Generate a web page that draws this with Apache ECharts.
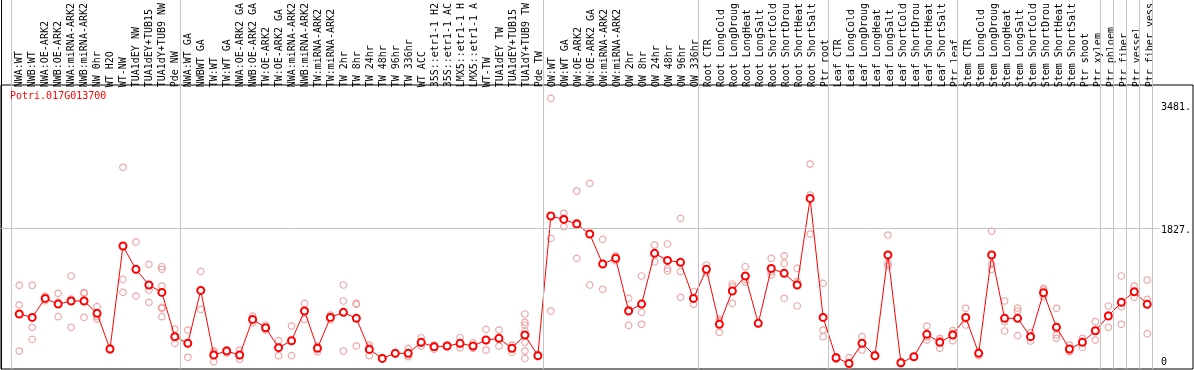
<!DOCTYPE html>
<html><head><meta charset="utf-8">
<script src="https://cdn.jsdelivr.net/npm/echarts@6/dist/echarts.min.js"></script>
<style>html,body{margin:0;padding:0;background:#fff}#c{width:1194px;height:370px}</style>
</head><body><div id="c"></div>
<script>
const title = 'Potri.017G013700';
const categories = [
 'NWA:WT','NWB:WT','NWA:OE-ARK2','NWB:OE-ARK2','NWA:miRNA-ARK2','NWB:miRNA-ARK2','NW 0hr','WT H2O','WT-NW','TUA1dEY NW','TUA1dEY+TUB15','TUA1dY+TUB9 NW','Pde NW',
 'NWA:WT GA','NWBWT GA','TW:WT','TW:WT GA','NWA:OE-ARK2 GA','NWB:OE-ARK2 GA','TW:OE-ARK2','TW:OE-ARK2 GA','NWA:miRNA-ARK2','NWB:miRNA-ARK2','TW:miRNA-ARK2','TW:miRNA-ARK2','TW 2hr','TW 8hr','TW 24hr','TW 48hr','TW 96hr','TW 336hr','WT ACC','35S::etr1-1 H2','35S::etr1-1 AC','LMX5::etr1-1 H','LMX5::etr1-1 A','WT-TW','TUA1dEY TW','TUA1dEY+TUB15','TUA1dY+TUB9 TW','Pde TW',
 'OW:WT','OW:WT GA','OW:OE-ARK2','OW:OE-ARK2 GA','OW:miRNA-ARK2','OW:miRNA-ARK2','OW 2hr','OW 8hr','OW 24hr','OW 48hr','OW 96hr','OW 336hr',
 'Root CTR','Root LongCold','Root LongDroug','Root LongHeat','Root LongSalt','Root ShortCold','Root ShortDrou','Root ShortHeat','Root ShortSalt','Ptr root',
 'Leaf CTR','Leaf LongCold','Leaf LongDroug','Leaf LongHeat','Leaf LongSalt','Leaf ShortCold','Leaf ShortDrou','Leaf ShortHeat','Leaf ShortSalt','Ptr leaf',
 'Stem CTR','Stem LongCold','Stem LongDroug','Stem LongHeat','Stem LongSalt','Stem ShortCold','Stem ShortDrou','Stem ShortHeat','Stem ShortSalt','Ptr shoot','Ptr xylem','Ptr phloem','Ptr fiber','Ptr vessel','Ptr fiber vess'
];
const groupStarts = [0, 13, 41, 53, 63, 73, 84, 85, 86, 87, 88];
const means = [
 682,637,891,815,856,856,691,214,1591,1279,1070,971,379,
 290,998,134,187,134,610,499,232,325,722,223,637,704,624,209,89,156,156,303,245,254,290,254,334,357,223,401,125,
 1992,1947,1885,1751,1350,1426,722,815,1493,1399,1373,891,
 1279,544,989,1190,557,1292,1226,1070,2228,637,
 98,22,290,125,1471,31,111,410,303,401,
 637,156,1471,624,624,379,967,504,214,303,459,655,838,980,811
];
const replicates = [
 [1065,802,187],[1065,504,343],[920,891,860],[958,646,841],[1190,882,504],[958,637,970],[780,646,615],[220,200,225],[2643,1145,971],[1644,922,1271],[1346,1003,838],[1314,1279,1056,771,758,646],[481,290,366],
 [468,103,299],[1252,744],[169,45,188],[200,160,200],[200,76,126],[655,566,610],[535,468,494],[325,125,246],[521,125,329],[824,610,732],[240,178,250],[668,602,640],[1070,856,187],[824,811,254],[267,125,235],[95,85,88],[156,150,160],[223,111,134],[365,254,290],[267,209,259],[267,245,250],[365,232,273],[298,223,241],[477,200,325],[468,254,349],[267,169,233],[682,571,535,455,303,187,89],[143,111,121],
 [3565,1693,722],[2028,1849,1964],[2326,1426,1903],[2429,1070,1754],[1680,1012,1358],[1460,1394,1424],[891,530,745],[1190,704,544],[1604,1381,1494],[1618,1292,1257],[1961,1248,905],[980,811,882],
 [1337,1234,1266],[610,437,585],[1083,1047,824],[1314,1145,1111],[557,560,555],[1426,1203,1247],[1460,1359,891],[1292,1114,789],[2687,2273,1751],[1092,468,379],
 [111,76,107],[98,0,10],[379,200,290],[143,111,125],[1738,1359,1324],[45,31,20],[115,111,107],[521,334,375],[357,223,329],[459,423,325],
 [758,535,618],[169,125,174],[1791,1346,1279],[856,579,455],[762,722,392],[432,321,384],[1025,1003,913],[758,401,357],[267,187,178],[357,236,316],[579,334,464],[789,504,672],[1190,544,780],[1056,905,980],[1136,878,419]
];
const tickValues = [0, 1827, 3481];
const tickLabels = ['0', '1827.', '3481.'];
const gridLineValue = 1827;

// layout (pixels)
const W = 1194, FIRST_X = 19.3, STEP = 13, DATA_LEFT = 1, DATA_RIGHT_EDGE = 1163, LABEL_TOP = 85;
const xMin = (DATA_LEFT - FIRST_X) / STEP, xMax = (DATA_RIGHT_EDGE - FIRST_X) / STEP;
const SEP_OFFSET = 0.62;
const FONT = 'DejaVu Sans Mono';

const meanData = means.map((v, i) => [i, v]);
const repData = [];
replicates.forEach((arr, i) => arr.forEach(v => repData.push([i, v])));

const chart = echarts.init(document.getElementById('c'), null, {renderer: 'canvas'});
chart.setOption({
  animation: false,
  backgroundColor: '#fff',
  title: {text: title, left: 10, top: 91, padding: 0,
    textStyle: {color: '#ff0000', fontSize: 10, fontWeight: 'normal', fontFamily: FONT}},
  grid: [
    {left: DATA_LEFT, right: W - DATA_RIGHT_EDGE, top: 0, bottom: 1, show: false},
    {left: FIRST_X - STEP / 2, width: STEP * categories.length, top: LABEL_TOP, bottom: 1, show: false},
    {left: 1, right: 1, top: LABEL_TOP, bottom: 1, show: true, borderColor: '#000', borderWidth: 1, backgroundColor: 'transparent'}
  ],
  xAxis: [
    {type: 'value', gridIndex: 0, min: xMin, max: xMax, axisLine: {show: false, onZero: false}, axisTick: {show: false}, axisLabel: {show: false}, splitLine: {show: false}},
    {type: 'category', gridIndex: 1, position: 'top', data: categories, boundaryGap: true,
      axisLine: {show: false}, axisTick: {show: false}, splitLine: {show: false},
      axisLabel: {rotate: 90, interval: 0, margin: 2, fontSize: 10, fontFamily: FONT, color: '#000'}},
    {type: 'value', gridIndex: 2, show: false}
  ],
  yAxis: [
    {type: 'value', gridIndex: 0, min: -53, max: 4880, axisLine: {show: true, onZero: false, lineStyle: {color: '#000', width: 1}}, axisTick: {show: false}, axisLabel: {show: false}, splitLine: {show: false}},
    {type: 'value', gridIndex: 0, position: 'right', min: -53, max: 4880, axisLine: {show: false, onZero: false}, axisTick: {show: false}, splitLine: {show: false},
      axisLabel: {customValues: tickValues, margin: 1, align: 'left', fontSize: 10, fontFamily: FONT, color: '#000',
        formatter: v => { const k = tickValues.indexOf(v); const s = tickLabels[k]; return v === 0 ? '{z|' + s + '}' : '{t|' + s + '}'; },
        rich: {t: {padding: [5, 0, 0, 0], fontSize: 10, fontFamily: FONT, color: '#000'}, z: {padding: [0, 0, 5, 0], fontSize: 10, fontFamily: FONT, color: '#000'}}}},
    {type: 'value', gridIndex: 1, show: false},
    {type: 'value', gridIndex: 2, show: false}
  ],
  series: [
    {type: 'scatter', xAxisIndex: 0, yAxisIndex: 0, data: repData, symbol: 'circle', symbolSize: 6.5, z: 2,
      itemStyle: {color: 'rgba(0,0,0,0)', borderColor: '#eb9090', borderWidth: 1.2}, silent: true,
      markLine: {silent: true, symbol: 'none', label: {show: false}, animation: false,
        lineStyle: {color: '#c4c4c4', type: 'solid', width: 1},
        data: groupStarts.map(s => ({xAxis: s - SEP_OFFSET})).concat([{yAxis: gridLineValue}])}},
    {type: 'line', xAxisIndex: 0, yAxisIndex: 0, data: meanData, symbol: 'emptyCircle', symbolSize: 7, z: 3,
      lineStyle: {color: '#ff0000', width: 1}, itemStyle: {color: '#ff0000', borderWidth: 1.5}, silent: true}
  ]
});
</script></body></html>
